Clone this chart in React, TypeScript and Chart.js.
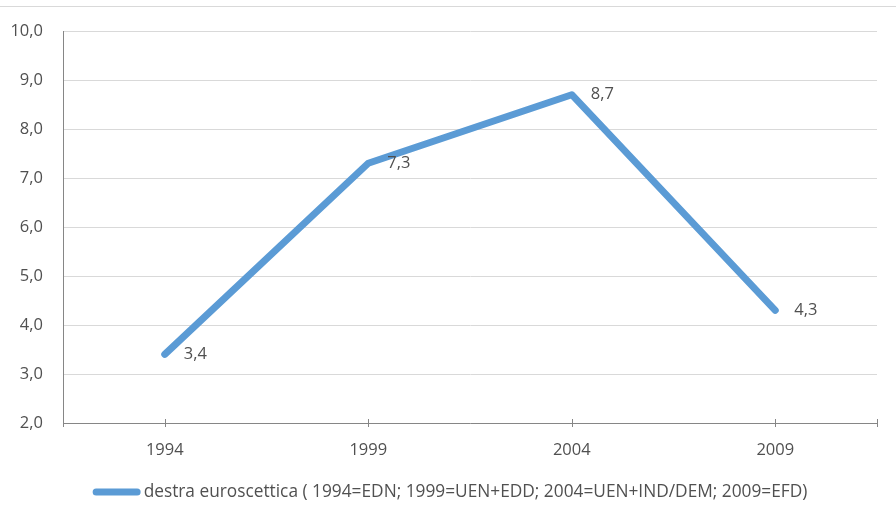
import React, { useEffect, useRef } from "react";
import { Chart, registerables } from "chart.js";

Chart.register(...registerables);

const categories: string[] = ["1994", "1999", "2004", "2009"];
const values: number[] = [3.4, 7.3, 8.7, 4.3];
const seriesLabel = "destra euroscettica ( 1994=EDN; 1999=UEN+EDD; 2004=UEN+IND/DEM; 2009=EFD)";
const yMin = 2;
const yMax = 10;
const yStep = 1;

const FONT = "'Open Sans', sans-serif";
const FONT_SIZE = 16.5;
const LEGEND_FONT_SIZE = 17.3;
const TEXT_COLOR = "#505050";
const LINE_COLOR = "#5B9BD5";
const AXIS_COLOR = "#868686";
const GRID_COLOR = "#d9d9d9";

const fmt = (v: number) => v.toFixed(1).replace(".", ",");

const decor = {
  id: "decor",
  beforeDraw(chart: any) {
    const ctx = chart.ctx;
    ctx.save();
    ctx.strokeStyle = GRID_COLOR;
    ctx.lineWidth = 1;
    ctx.beginPath();
    ctx.moveTo(0, 6.5);
    ctx.lineTo(chart.width, 6.5);
    ctx.stroke();
    ctx.restore();
  },
  afterDatasetsDraw(chart: any) {
    const ctx = chart.ctx;
    const meta = chart.getDatasetMeta(0);
    const data = chart.data.datasets[0].data as number[];
    ctx.save();
    ctx.font = `${FONT_SIZE}px ${FONT}`;
    ctx.fillStyle = TEXT_COLOR;
    ctx.textAlign = "left";
    ctx.textBaseline = "middle";
    meta.data.forEach((pt: any, i: number) => {
      ctx.fillText(fmt(data[i]), pt.x + 19, pt.y);
    });
    ctx.restore();
  },
  afterDraw(chart: any) {
    const ctx = chart.ctx;
    const xs = chart.scales.x;
    const area = chart.chartArea;
    ctx.save();
    ctx.strokeStyle = AXIS_COLOR;
    ctx.lineWidth = 1;
    const positions: number[] = [area.left, area.right];
    xs.ticks.forEach((_t: any, i: number) => positions.push(xs.getPixelForTick(i)));
    ctx.beginPath();
    positions.forEach((p) => {
      const px = Math.round(p) + 0.5;
      ctx.moveTo(px, area.bottom - 4);
      ctx.lineTo(px, area.bottom + 4);
    });
    ctx.stroke();

    // legend
    const label = chart.data.datasets[0].label as string;
    ctx.font = `${LEGEND_FONT_SIZE}px ${FONT}`;
    const tw = ctx.measureText(label).width;
    const boxW = 48;
    const gap = 3;
    const total = boxW + gap + tw;
    const startX = chart.width / 2 + 2 - total / 2;
    const ly = 492;
    ctx.strokeStyle = LINE_COLOR;
    ctx.lineWidth = 7;
    ctx.lineCap = "round";
    ctx.beginPath();
    ctx.moveTo(startX + 3.5, ly);
    ctx.lineTo(startX + boxW - 3.5, ly);
    ctx.stroke();
    ctx.fillStyle = TEXT_COLOR;
    ctx.textAlign = "left";
    ctx.textBaseline = "middle";
    ctx.fillText(label, startX + boxW + gap, ly);
    ctx.restore();
  },
};

export default function App() {
  const ref = useRef<HTMLCanvasElement | null>(null);
  useEffect(() => {
    if (!ref.current) return;
    const chart = new Chart(ref.current, {
      type: "line",
      data: {
        labels: categories,
        datasets: [
          {
            label: seriesLabel,
            data: values,
            borderColor: LINE_COLOR,
            backgroundColor: LINE_COLOR,
            borderWidth: 7,
            borderCapStyle: "round",
            borderJoinStyle: "round",
            pointRadius: 0,
            tension: 0,
            fill: false,
          },
        ],
      },
      options: {
        responsive: false,
        animation: false,
        layout: { padding: { left: 0, right: 19, top: 31, bottom: 0 } },
        plugins: {
          legend: { display: false },
          tooltip: { enabled: false },
        },
        scales: {
          x: {
            type: "category",
            offset: true,
            grid: { display: false, drawTicks: false },
            border: { display: true, color: AXIS_COLOR, width: 1 },
            ticks: {
              padding: 17,
              color: TEXT_COLOR,
              font: { family: FONT, size: FONT_SIZE },
              maxRotation: 0,
            },
            afterFit: (s: any) => {
              s.height = 95;
            },
          },
          y: {
            min: yMin,
            max: yMax,
            grid: { color: GRID_COLOR, lineWidth: 1, drawTicks: false },
            border: { display: true, color: AXIS_COLOR, width: 1 },
            ticks: {
              stepSize: yStep,
              padding: 20,
              color: TEXT_COLOR,
              font: { family: FONT, size: FONT_SIZE },
              callback: (v: any) => fmt(Number(v)),
            },
            afterFit: (s: any) => {
              s.width = 63;
            },
          },
        },
      },
      plugins: [decor],
    });
    return () => chart.destroy();
  }, []);
  return (
    <div style={{ position: "absolute", left: 0, top: 0, width: 896, height: 518, background: "#fff" }}>
      <canvas ref={ref} width={896} height={518} style={{ display: "block" }} />
    </div>
  );
}
